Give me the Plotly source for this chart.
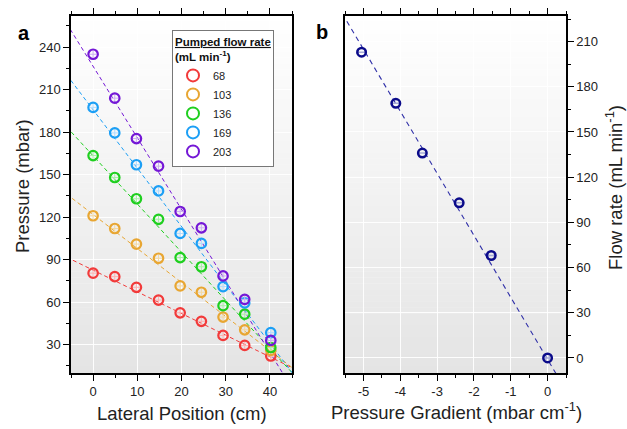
import plotly.graph_objects as go

# ---------------- data ----------------
lateral_cm = [0, 4.9, 9.8, 14.8, 19.7, 24.5, 29.4, 34.3, 40.2]
flow_labels = ["68", "103", "136", "169", "203"]
p68 = [80.5, 78, 70.5, 61.5, 52.5, 46.5, 36.5, 29.5, 22]
p103 = [121, 112, 101, 91, 71.5, 67, 49.5, 40.5, 26]
p136 = [163.5, 148, 133, 118.5, 91.5, 85, 57.5, 51.5, 28]
p169 = [197.5, 179.5, 157, 138.5, 108.5, 101.5, 71, 59.5, 38.5]
p203 = [235, 204, 175.5, 156, 124, 112.5, 78.5, 62, 33]
fit_slopes = [-1.53, -2.40, -3.40, -4.12, -5.05]
fit_intercepts = [82.6, 121.9, 163.3, 195.8, 226.5]

gradient = [-5.05, -4.12, -3.40, -2.40, -1.53, 0]
flow_rate = [203, 169, 136, 103, 68, 0]
gradient_err = [0.12, 0.12, 0.1, 0.1, 0.08, 0.05]
b_slope = -41.2
b_intercept = -1.0
b_tickvals = [-5, -4, -3, -2, -1, 0]
b_ticktext = ["-5", "-4", "-3", "-2", "-1", "0"]

colors = ["#f23a3a", "#e8a632", "#1fcf1f", "#1c9ff5", "#7417d6"]
light = ["#ffb0b0", "#f5d9a0", "#a8f0a8", "#b0dcff", "#cdb0f2"]
FONT = "Liberation Sans, Arial, sans-serif"

fig = go.Figure()

# gradient background shapes
shapes = []
N = 60
for ax in ["", "2"]:
    for i in range(N):
        t = (i + 0.5) / N
        g = int(round(255 - (255 - 228) * t))
        shapes.append(dict(type="rect", xref=f"x{ax} domain", yref=f"y{ax} domain",
                           x0=0, x1=1, y0=1 - (i + 1) / N, y1=1 - i / N + 0.001,
                           fillcolor=f"rgb({g},{g},{g})", line=dict(width=0), layer="below"))

series = [p68, p103, p136, p169, p203]
xl = [-6, 46]
for k, ys in enumerate(series):
    fig.add_trace(go.Scatter(
        x=xl, y=[fit_intercepts[k] + fit_slopes[k] * v for v in xl],
        mode="lines", line=dict(color=colors[k], width=1, dash="4px,3px"),
        showlegend=False, hoverinfo="skip", xaxis="x", yaxis="y"))
for k, ys in enumerate(series):
    fig.add_trace(go.Scatter(
        x=lateral_cm, y=ys, mode="markers", name=flow_labels[k],
        marker=dict(symbol="circle-open", size=9.5, color=colors[k], line=dict(width=2.2, color=colors[k])),
        error_x=dict(type="constant", value=0.8, color=light[k], thickness=1, width=0),
        error_y=dict(type="constant", value=2.5, color=light[k], thickness=1, width=0),
        xaxis="x", yaxis="y"))

xb = [-5.7, 0.7]
fig.add_trace(go.Scatter(
    x=xb, y=[b_intercept + b_slope * v for v in xb], mode="lines",
    line=dict(color="#3030a8", width=1.1, dash="5px,4px"),
    showlegend=False, hoverinfo="skip", xaxis="x2", yaxis="y2"))
fig.add_trace(go.Scatter(
    x=gradient, y=flow_rate, mode="markers", showlegend=False,
    marker=dict(symbol="circle-open", size=8.5, color="#0b0b8a", line=dict(width=2.5, color="#0b0b8a")),
    error_x=dict(type="data", array=gradient_err, color="#a8acd8", thickness=1.5, width=2),
    xaxis="x2", yaxis="y2"))

W, H = 627, 429
L0, R0 = 71, 292
L1, R1 = 345, 566
TOP, BOT = 16, 373

axis_common = dict(showline=True, linecolor="black", linewidth=1.5, ticks="outside",
                   ticklen=6, tickwidth=1.3, tickcolor="black", zeroline=False,
                   showgrid=True, gridcolor="rgba(255,255,255,0.9)", gridwidth=1,
                   tickfont=dict(family=FONT, size=13, color="#222"))
minor = lambda d: dict(dtick=d, ticks="outside", ticklen=3.5, tickwidth=1.1, tickcolor="black", showgrid=False)

fig.update_layout(
    width=W, height=H,
    margin=dict(l=0, r=0, t=TOP, b=H - BOT, autoexpand=False),
    paper_bgcolor="white", plot_bgcolor="white",
    font=dict(family=FONT, color="#222"),
    shapes=shapes,
    xaxis=dict(domain=[L0 / W, R0 / W], range=[-5, 45], tick0=0, dtick=10,
               minor=minor(5), mirror="ticks", anchor="y", **axis_common),
    yaxis=dict(domain=[0, 1], range=[10, 262], tick0=0, dtick=30,
               minor=minor(15), mirror=True, anchor="x", **axis_common),
    xaxis2=dict(domain=[L1 / W, R1 / W], range=[-5.5, 0.5], tickvals=b_tickvals, ticktext=b_ticktext,
                minor=minor(0.5), mirror="ticks", anchor="y2", **axis_common),
    yaxis2=dict(domain=[0, 1], range=[-10, 227], tick0=0, dtick=30, side="right",
                minor=minor(15), mirror=True, anchor="x2", **axis_common),
    legend=dict(x=172 / W, y=(BOT - 30) / (BOT - TOP), xanchor="left", yanchor="top",
                bgcolor="white", bordercolor="#777", borderwidth=1,
                font=dict(family=FONT, size=11, color="#222"),
                title=dict(text="<b><u>Pumped flow rate</u></b><br><b>(mL min<sup>-1</sup>)</b>",
                           font=dict(family=FONT, size=11.5, color="#111"), side="top"),
                tracegroupgap=0, itemsizing="constant", itemwidth=30),
)

PH = BOT - TOP
def px(xp): return xp / W
def py(yp): return (BOT - yp) / PH

TS = 18.5
ann = [
    dict(text="<b>a</b>", x=px(24), y=py(33), font=dict(size=20, family=FONT, color="black")),
    dict(text="<b>b</b>", x=px(322), y=py(32), font=dict(size=20, family=FONT, color="black")),
    dict(text="Pressure (mbar)", x=px(22), y=py(186), textangle=-90, font=dict(size=TS, family=FONT, color="#222")),
    dict(text="Lateral Position (cm)", x=px(182), y=py(413), font=dict(size=TS, family=FONT, color="#222")),
    dict(text="Pressure Gradient (mbar cm<sup>-1</sup>)", x=px(456), y=py(411), font=dict(size=TS, family=FONT, color="#222")),
    dict(text="Flow rate (mL min<sup>-1</sup>)", x=px(614), y=py(188), textangle=-90, font=dict(size=TS, family=FONT, color="#222")),
]
for a in ann:
    a.update(xref="paper", yref="paper", showarrow=False, xanchor="center", yanchor="middle")
fig.update_layout(annotations=ann)

fig.write_html("out.html", config={"displayModeBar": False},
               post_script="document.body.style.margin='0px';document.body.style.overflow='hidden';")
